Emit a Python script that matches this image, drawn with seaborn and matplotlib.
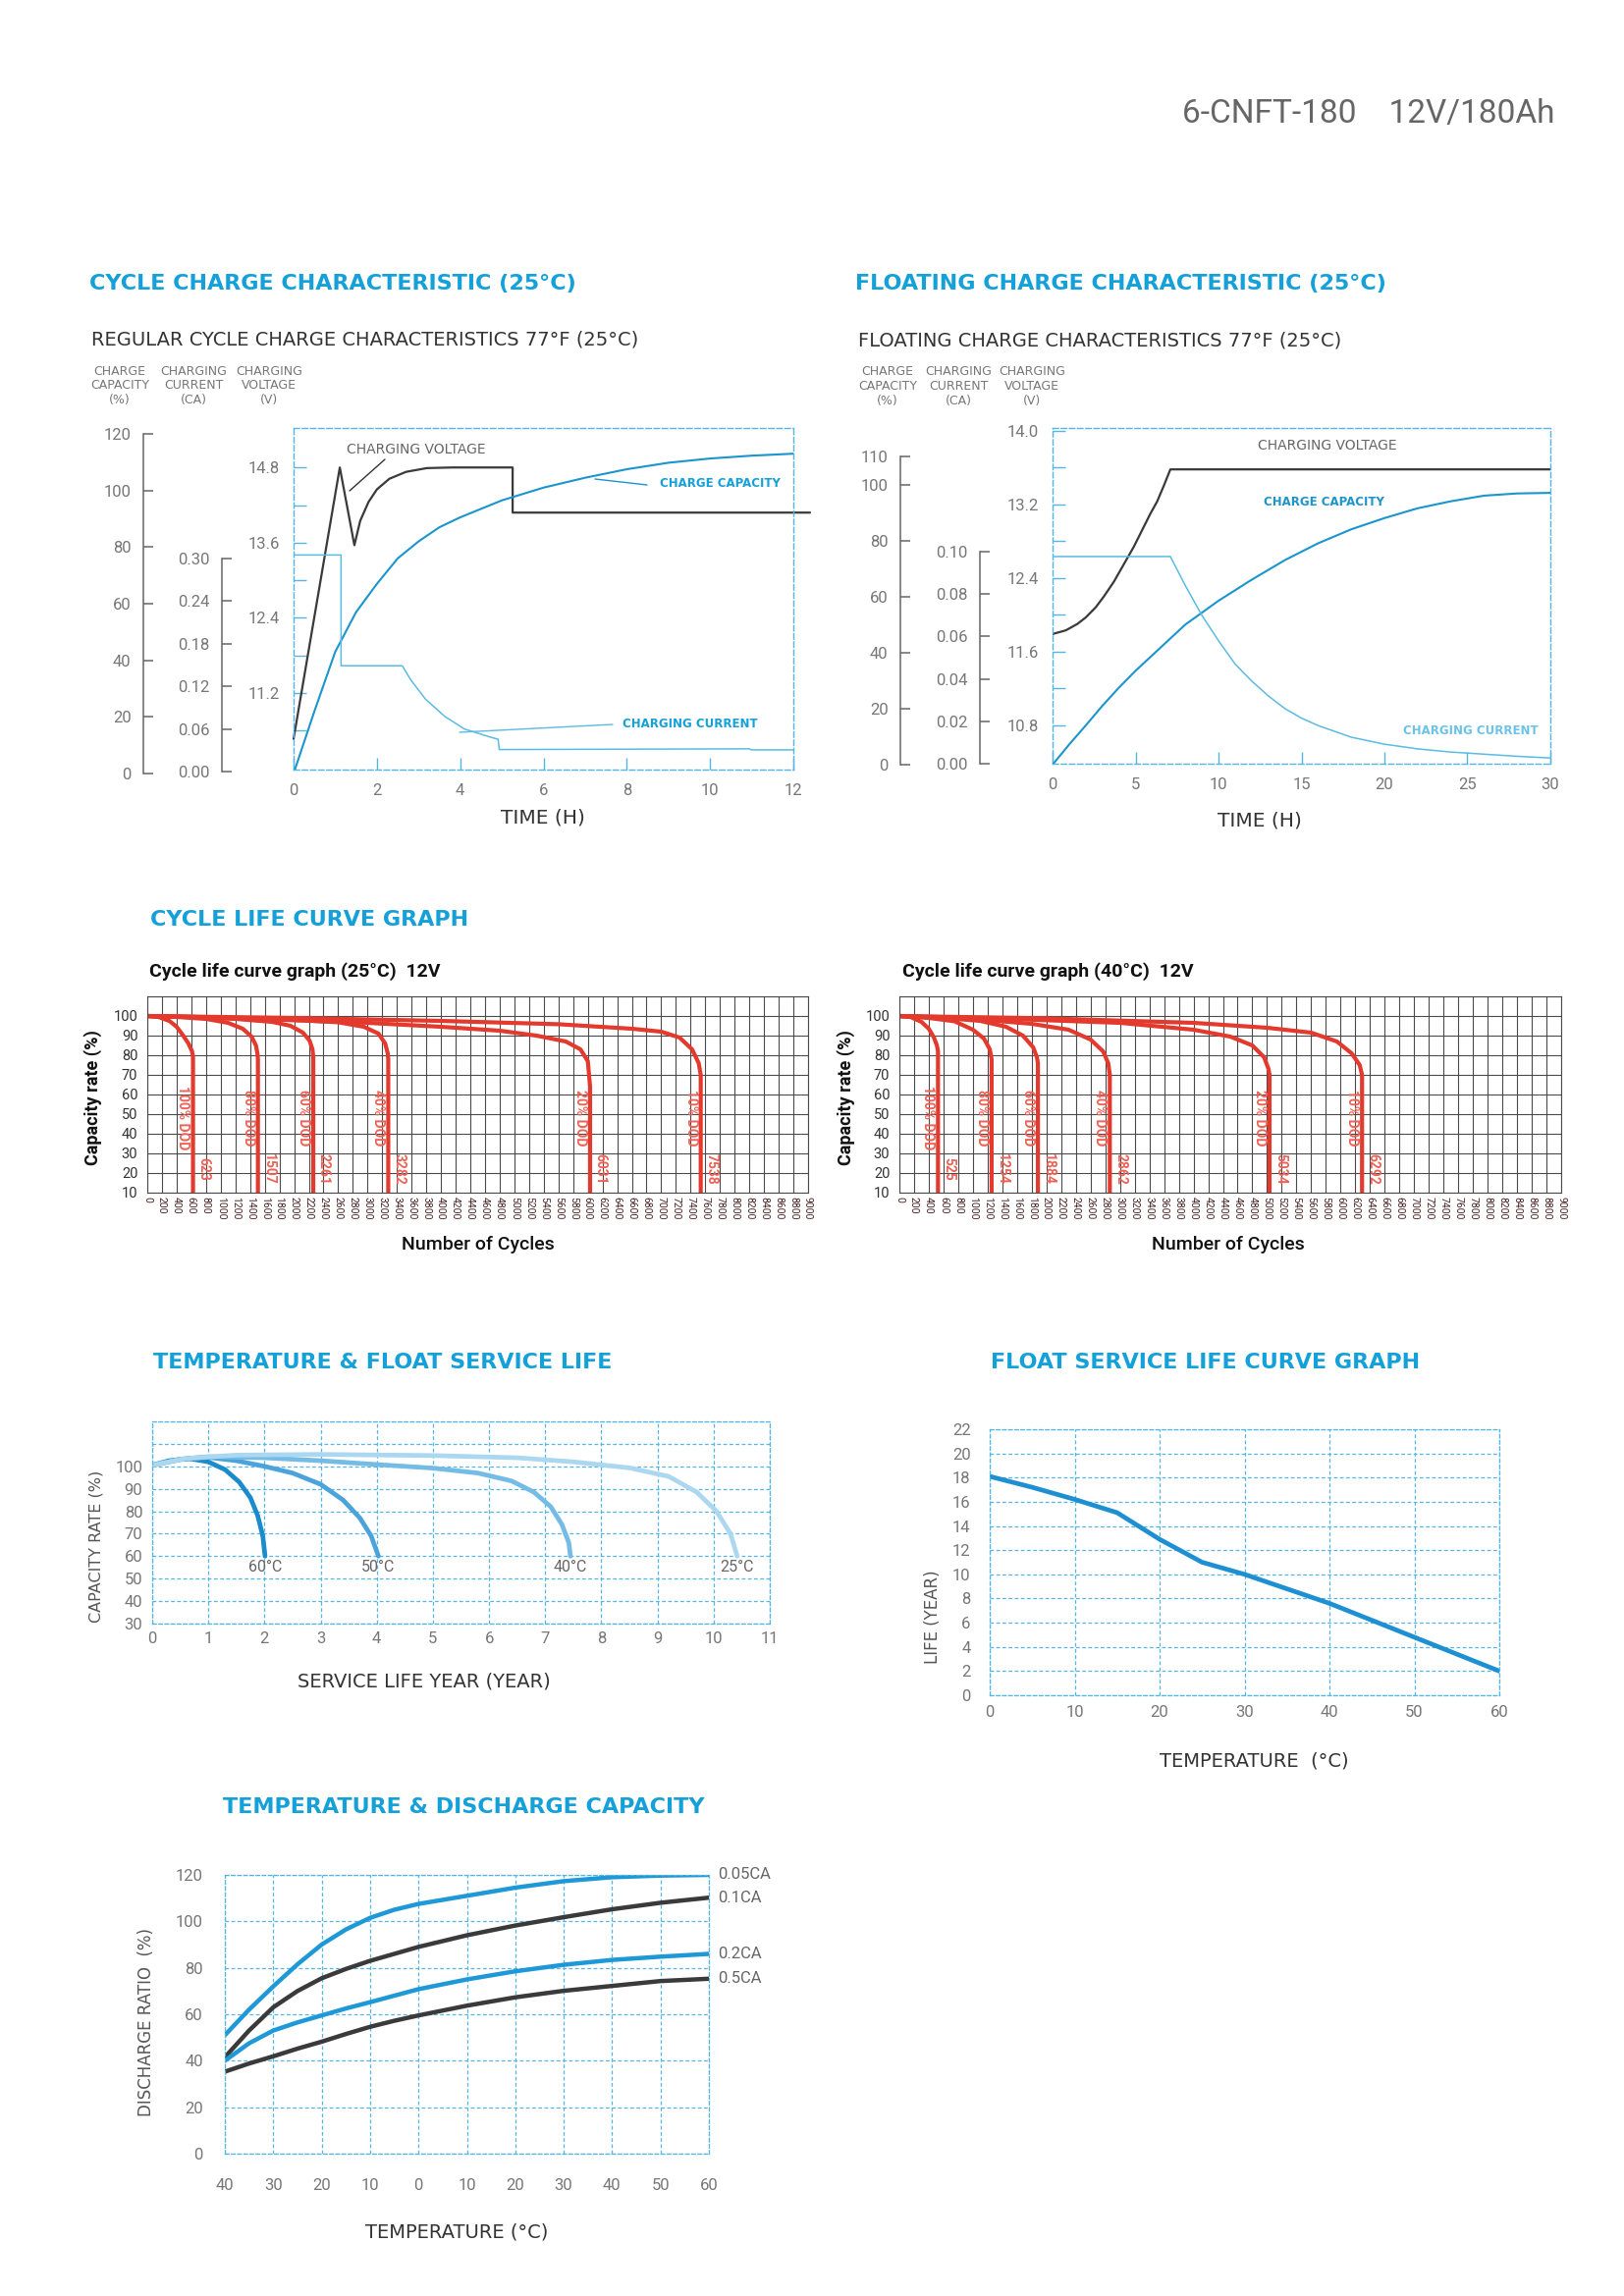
import numpy as np
import matplotlib
matplotlib.use('Agg')
import matplotlib.pyplot as plt
import seaborn as sns
from matplotlib.lines import Line2D

# ---------------- data ----------------
# cycle charge characteristic (25C), time in hours
cc_volt_t = [0, 1.11, 1.46, 1.6, 1.8, 2.0, 2.3, 2.7, 3.2, 3.8, 5.26, 5.26, 12.4]
cc_volt = [10.47, 14.8, 13.56, 13.95, 14.25, 14.45, 14.62, 14.73, 14.79, 14.8, 14.8, 14.08, 14.08]
cc_cap_t = [0, 0.5, 1, 1.5, 2, 2.5, 3, 3.5, 4, 5, 6, 7, 8, 9, 10, 11, 12]
cc_cap = [0, 22, 43, 57, 67, 76, 82, 87, 90.5, 96.5, 101, 104.5, 107.5, 109.8, 111.3, 112.3, 113]
cc_cur_t = [0, 1.14, 1.14, 2.61, 2.82, 3.17, 3.63, 4.10, 4.68, 4.91, 4.94, 10.94, 11.0, 12]
cc_cur = [0.305, 0.305, 0.149, 0.149, 0.1286, 0.1018, 0.0777, 0.060, 0.0493, 0.0455, 0.031, 0.032, 0.0305, 0.0305]

# floating charge characteristic (25C)
fc_volt_t = [0, 0.8, 1.5, 2.0, 2.6, 3.1, 3.7, 4.3, 4.9, 5.4, 5.9, 6.3, 6.7, 7.1, 30]
fc_volt = [11.79, 11.83, 11.9, 11.97, 12.08, 12.2, 12.36, 12.55, 12.74, 12.92, 13.1, 13.23, 13.4, 13.58, 13.58]
fc_cap_t = [0, 1, 2, 3, 4, 5, 6, 8, 10, 12, 14, 16, 18, 20, 22, 24, 26, 28, 30]
fc_cap = [0, 7.2, 14, 21, 27.5, 33.5, 39, 50, 58.5, 66, 73, 79, 84, 88, 91.5, 94, 96, 96.8, 97]
fc_cur_t = [0, 7.1, 8, 9, 10, 11, 12, 13, 14, 15, 16, 18, 20, 22, 24, 26, 28, 30]
fc_cur = [0.0977, 0.0977, 0.084, 0.070, 0.058, 0.047, 0.039, 0.032, 0.026, 0.0215, 0.018,
          0.0125, 0.0092, 0.007, 0.0055, 0.0045, 0.0035, 0.0027]

# cycle life curves
dod_names = ['100% DOD', '80% DOD', '60% DOD', '40% DOD', '20% DOD', '10% DOD']
c25_life = [623, 1507, 2261, 3282, 6031, 7538]
c25_x = [
    [0, 150, 300, 400, 480, 560, 610, 623, 623],
    [0, 400, 800, 1100, 1300, 1420, 1480, 1500, 1507, 1507],
    [0, 600, 1200, 1700, 1950, 2120, 2210, 2250, 2261, 2261],
    [0, 1000, 2000, 2600, 2950, 3150, 3240, 3275, 3282, 3282],
    [0, 1500, 3000, 4000, 4800, 5300, 5700, 5900, 6000, 6031, 6031],
    [0, 2000, 4000, 5600, 6600, 7000, 7250, 7420, 7510, 7538, 7538],
]
c25_y = [
    [100, 99.5, 97.5, 94.5, 90.5, 86, 82, 79, 10],
    [100, 99.5, 98.5, 96.5, 93.5, 89.5, 85, 81, 78, 10],
    [100, 99.5, 98.5, 97, 95, 91.5, 87.5, 83, 79, 10],
    [100, 99.3, 98, 96.8, 94.5, 91, 86, 81, 78, 10],
    [100, 98.5, 96.5, 94.5, 92.5, 90, 87, 83, 77, 64, 10],
    [100, 99, 97.5, 95.8, 93.5, 92, 89, 83, 76, 70, 10],
]
c40_life = [525, 1254, 1884, 2862, 5034, 6292]
c40_x = [
    [0, 150, 300, 400, 470, 510, 525, 525],
    [0, 400, 750, 1000, 1150, 1230, 1254, 1254],
    [0, 600, 1100, 1450, 1680, 1820, 1870, 1884, 1884],
    [0, 1000, 1800, 2300, 2600, 2770, 2840, 2862, 2862],
    [0, 1500, 3000, 4000, 4500, 4800, 4960, 5020, 5034, 5034],
    [0, 2000, 4000, 5000, 5600, 5950, 6150, 6260, 6292, 6292],
]
c40_y = [
    [100, 99.5, 97, 93.5, 89, 85, 82, 10],
    [100, 99, 97.3, 93, 88.5, 83, 78, 10],
    [100, 99, 97.5, 94.5, 90, 84, 79, 76, 10],
    [100, 98.5, 96, 93, 88, 82, 76, 70, 10],
    [100, 98.5, 96.5, 93, 89.5, 85, 79, 73, 70, 10],
    [100, 98.8, 96.5, 94, 91.5, 87, 81, 75, 70, 10],
]

# temperature & float service life (years vs capacity %)
fs_names = ['60°C', '50°C', '40°C', '25°C']
fs60_x = [0, 0.3, 0.65, 1.0, 1.3, 1.55, 1.75, 1.88, 1.97, 2.01]
fs60_y = [100.5, 102.5, 103.5, 102, 98.5, 93, 86, 78, 69, 60]
fs50_x = [0, 0.5, 1.0, 1.5, 2.0, 2.5, 3.0, 3.4, 3.7, 3.9, 4.03]
fs50_y = [100.5, 103, 104, 102.5, 100, 97, 92, 85, 77, 69, 60]
fs40_x = [0, 0.5, 1.0, 2.0, 3.0, 4.0, 5.0, 5.8, 6.4, 6.8, 7.1, 7.3, 7.42, 7.45]
fs40_y = [100.5, 103.2, 104.3, 103.8, 102.5, 100.8, 99.2, 97, 93.5, 88.5, 82, 74, 66, 60]
fs25_x = [0, 0.6, 1.5, 3, 5, 6.5, 7.5, 8.5, 9.2, 9.7, 10.05, 10.3, 10.42]
fs25_y = [100.5, 103.5, 105, 105.3, 104.8, 103.8, 102, 99.3, 95.5, 88.5, 80, 70, 60]

# float service life vs temperature
fl_temp = [0, 5, 10, 15, 20, 25, 30, 35, 40, 45, 50, 55, 60]
fl_life = [18.1, 17.2, 16.2, 15.1, 12.9, 11.0, 10.0, 8.8, 7.6, 6.2, 4.8, 3.4, 2.0]

# temperature & discharge capacity
dc_temp = [-40, -35, -30, -25, -20, -15, -10, -5, 0, 10, 20, 30, 40, 50, 60]
dc_names = ['0.05CA', '0.1CA', '0.2CA', '0.5CA']
dc_005 = [51, 62, 72, 81.5, 90, 96.5, 101.5, 105, 107.5, 111, 114.5, 117.3, 119, 119.7, 120]
dc_01 = [41.5, 53, 63, 70, 75.5, 79.5, 83, 86, 89, 94, 98.2, 101.8, 105.2, 108, 110.2]
dc_02 = [40, 47.5, 53, 56.5, 59.5, 62.5, 65.2, 68, 70.8, 75, 78.5, 81.3, 83.4, 84.8, 86]
dc_05 = [35.3, 38.8, 41.9, 45.2, 48.2, 51.5, 54.6, 57.2, 59.5, 63.7, 67.3, 70.1, 72.2, 74.3, 75.3]

# ---------------- styling ----------------
W, H = 1654, 2339
CYAN = '#14a0d8'
BOX = '#55b5e3'
GREY = '#777777'
DARK = '#3a3a3a'
RED = '#e43a2e'
RED_T = '#ec6257'

sns.set_theme(style='white')
plt.rcParams['font.family'] = ['Roboto', 'DejaVu Sans']

fig = plt.figure(figsize=(W / 100, H / 100), dpi=100)
fig.patch.set_facecolor('white')


def px_ax(x0, y0, x1, y1):
    return fig.add_axes([x0 / W, 1 - y1 / H, (x1 - x0) / W, (y1 - y0) / H])


def ftxt(x, y, s, **kw):
    kw.setdefault('ha', 'left')
    kw.setdefault('va', 'center')
    return fig.text(x / W, 1 - y / H, s, **kw)


def fline(x0, y0, x1, y1, **kw):
    fig.add_artist(Line2D([x0 / W, x1 / W], [1 - y0 / H, 1 - y1 / H],
                          transform=fig.transFigure, **kw))


def line(ax, x, y, color, lw, clip=True):
    sns.lineplot(x=x, y=y, ax=ax, color=color, linewidth=lw,
                 estimator=None, sort=False, legend=False)
    ax.lines[-1].set_clip_on(clip)


def title(x, y, s):
    ftxt(x, y, s, fontsize=16, fontweight='bold', color=CYAN, family='DejaVu Sans')


def caption(x, y, s, size=14, **kw):
    ftxt(x, y, s, fontsize=size, color='#333333', family='DejaVu Sans', **kw)


def scale_axis(x, ytop, ybot, lo, hi, ticks, fmt):
    a = px_ax(x, ytop, x + 1, ybot)
    a.set_ylim(lo, hi)
    a.set_xticks([])
    a.patch.set_alpha(0)
    for s in ['top', 'right', 'bottom']:
        a.spines[s].set_visible(False)
    a.spines['left'].set_color('#666666')
    a.spines['left'].set_linewidth(1.1)
    a.set_yticks(ticks)
    a.set_yticklabels([fmt.format(t) for t in ticks])
    a.tick_params(axis='y', left=True, direction='in', length=7, width=1.1,
                  color='#666666', labelsize=12, labelcolor=GREY, pad=9)


def twin_lim(lo, hi, s_top, s_bot, b_top, b_bot):
    per = (hi - lo) / (s_bot - s_top)
    return lo - (b_bot - s_bot) * per, hi + (s_top - b_top) * per


def charge_box(x0, y0, x1, y1):
    ax = px_ax(x0, y0, x1, y1)
    for s in ax.spines.values():
        s.set_color(BOX)
        s.set_linestyle((0, (4, 2)))
        s.set_linewidth(1.0)
    return ax


def finish_box(ax, xmax, xstep, vlim, vticks, vlabels):
    ax.set_xlim(0, xmax)
    ax.set_ylim(*vlim)
    ax.set_xticks(np.arange(0, xmax + 1, xstep))
    ax.set_yticks(vticks)
    ax.set_yticklabels(vlabels)
    ax.tick_params(axis='x', bottom=True, direction='in', length=9, width=1,
                   color=BOX, labelsize=12, labelcolor=GREY, pad=10)
    ax.tick_params(axis='y', left=False, right=True, direction='in', length=9,
                   width=1, color=BOX, labelleft=True, labelsize=12,
                   labelcolor=GREY, pad=10)


def headers(xs, y):
    for cx, s in zip(xs, ['CHARGE\nCAPACITY\n(%)', 'CHARGING\nCURRENT\n(CA)',
                          'CHARGING\nVOLTAGE\n(V)']):
        ftxt(cx, y, s, ha='center', fontsize=9, color=GREY, family='DejaVu Sans',
             linespacing=1.2)


# ---------------- page header ----------------
ftxt(1584, 116, '6-CNFT-180    12V/180Ah', ha='right', fontsize=24, color='#666666')

# ---------------- cycle charge characteristic ----------------
title(91, 289, 'CYCLE CHARGE CHARACTERISTIC (25°C)')
caption(93, 346, 'REGULAR CYCLE CHARGE CHARACTERISTICS 77°F (25°C)', size=14)
headers([122, 197, 274], 393)

scale_axis(146, 442, 788, 0, 120, list(range(0, 121, 20)), '{:d}')
scale_axis(226, 569, 786, 0, 0.30, [0, 0.06, 0.12, 0.18, 0.24, 0.30], '{:.2f}')

b1 = charge_box(299, 436, 808, 784)
line(b1, cc_volt_t, cc_volt, DARK, 1.6, clip=False)
v1 = np.round(np.arange(10.6, 14.81, 0.6), 1)
finish_box(b1, 12, 2, (9.98, 15.43), v1,
           ['{:.1f}'.format(v) if i % 2 == 1 else '' for i, v in enumerate(v1)])
c1 = b1.twinx()
line(c1, cc_cap_t, cc_cap, '#1b95cc', 1.5)
c1.set_ylim(*twin_lim(0, 120, 442, 788, 436, 784))
c1.axis('off')
i1 = b1.twinx()
line(i1, cc_cur_t, cc_cur, '#5bbbe2', 1.1)
i1.set_ylim(*twin_lim(0, 0.30, 569, 786, 436, 784))
i1.axis('off')
b1.set_xlim(0, 12)

ftxt(424, 458, 'CHARGING VOLTAGE', ha='center', fontsize=10, color='#666666',
     family='DejaVu Sans')
fline(392, 468, 356, 500, color='#333333', lw=1)
ftxt(733, 493, 'CHARGE CAPACITY', ha='center', fontsize=8.5, fontweight='bold',
     color=CYAN, family='DejaVu Sans')
fline(606, 488, 659, 494, color='#1b95cc', lw=1)
ftxt(703, 738, 'CHARGING CURRENT', ha='center', fontsize=8.5, fontweight='bold',
     color=CYAN, family='DejaVu Sans')
fline(468, 746, 624, 738, color='#5bbbe2', lw=1)
caption(553, 833, 'TIME (H)', ha='center', size=14.5)

# ---------------- floating charge characteristic ----------------
title(871, 289, 'FLOATING CHARGE CHARACTERISTIC (25°C)')
caption(874, 347, 'FLOATING CHARGE CHARACTERISTICS 77°F (25°C)', size=14)
headers([904, 976, 1051], 394)

scale_axis(917, 465, 779, 0, 110, [0, 20, 40, 60, 80, 100, 110], '{:d}')
scale_axis(998, 562, 778, 0, 0.10, [0, 0.02, 0.04, 0.06, 0.08, 0.10], '{:.2f}')

b2 = charge_box(1072, 436, 1579, 778)
line(b2, fc_volt_t, fc_volt, DARK, 1.6)
v2 = np.round(np.arange(10.8, 14.01, 0.4), 1)
finish_box(b2, 30, 5, (10.38, 14.03), v2,
           ['{:.1f}'.format(v) if i % 2 == 0 else '' for i, v in enumerate(v2)])
c2 = b2.twinx()
line(c2, fc_cap_t, fc_cap, '#1b95cc', 1.5)
c2.set_ylim(*twin_lim(0, 110, 465, 779, 436, 778))
c2.axis('off')
i2 = b2.twinx()
line(i2, fc_cur_t, fc_cur, '#5bbbe2', 1.1)
i2.set_ylim(*twin_lim(0, 0.10, 562, 778, 436, 778))
i2.axis('off')
b2.set_xlim(0, 30)

ftxt(1352, 454, 'CHARGING VOLTAGE', ha='center', fontsize=10, color='#666666',
     family='DejaVu Sans')
ftxt(1348, 512, 'CHARGE CAPACITY', ha='center', fontsize=8.5, fontweight='bold',
     color='#1b95cc', family='DejaVu Sans')
ftxt(1498, 745, 'CHARGING CURRENT', ha='center', fontsize=8.5, fontweight='bold',
     color='#6cc3e8', family='DejaVu Sans')
caption(1283, 836, 'TIME (H)', ha='center', size=14.5)

# ---------------- cycle life curve graphs ----------------
title(153, 937, 'CYCLE LIFE CURVE GRAPH')


def cycle_chart(x0, x1, xs, ys, lives, sub, sub_x, ylab_x, xlab_x):
    ftxt(sub_x, 990, sub, fontsize=14, fontweight='bold', color='#111111')
    ax = px_ax(x0, 1015, x1, 1215)
    for cx, cy in zip(xs, ys):
        line(ax, cx, cy, RED, 3.0)
    ax.set_xlim(0, 9000)
    ax.set_ylim(10, 110)
    ax.set_xticks(range(0, 9001, 200))
    ax.set_xticklabels([str(v) for v in range(0, 9001, 200)], rotation=-90)
    ax.set_yticks(range(10, 111, 10))
    ax.set_yticklabels([str(v) if v <= 100 else '' for v in range(10, 111, 10)])
    ax.grid(True, color='#4a4a4a', linewidth=0.8)
    for s in ax.spines.values():
        s.set_color('#4a4a4a')
        s.set_linewidth(0.8)
    ax.tick_params(axis='x', length=0, labelsize=7.5, labelcolor='#4a2525', pad=3)
    ax.tick_params(axis='y', length=0, labelsize=10.5, labelcolor='#333333', pad=7)
    for life, name in zip(lives, dod_names):
        ax.text(life - 135, 48, name, rotation=-90, ha='center', va='center',
                fontsize=10, fontweight='bold', color=RED_T)
        ax.text(life + 145, 22, str(life), rotation=-90, ha='center', va='center',
                fontsize=10, fontweight='bold', color=RED_T)
    ftxt(ylab_x, 1118, 'Capacity rate (%)', rotation=90, ha='center', fontsize=13,
         fontweight='bold', color='#111111')
    ftxt(xlab_x, 1268, 'Number of Cycles', ha='center', fontsize=14,
         fontweight='medium', color='#111111')


cycle_chart(150, 823, c25_x, c25_y, c25_life, 'Cycle life curve graph (25°C)  12V',
            152, 95, 487)
cycle_chart(916, 1590, c40_x, c40_y, c40_life, 'Cycle life curve graph (40°C)  12V',
            919, 862, 1251)


def dashed_grid(ax):
    ax.grid(True, color=BOX, linestyle=(0, (3, 2)), linewidth=0.9)
    for s in ax.spines.values():
        s.set_color(BOX)
        s.set_linestyle((0, (3, 2)))
        s.set_linewidth(0.9)


# ---------------- temperature & float service life ----------------
title(156, 1388, 'TEMPERATURE & FLOAT SERVICE LIFE')
a5 = px_ax(155, 1448, 784, 1654)
fs_colors = ['#1a8bcb', '#4aa3da', '#74bbe5', '#acd7f1']
for fx, fy, col in zip([fs60_x, fs50_x, fs40_x, fs25_x], [fs60_y, fs50_y, fs40_y, fs25_y],
                       fs_colors):
    line(a5, fx, fy, col, 3.4)
for fx, name in zip([fs60_x, fs50_x, fs40_x, fs25_x], fs_names):
    a5.text(fx[-1], 55, name, ha='center', va='center', fontsize=11.5, color='#666666')
a5.set_xlim(0, 11)
a5.set_ylim(30, 120)
a5.set_xticks(range(0, 12))
a5.set_yticks(range(30, 121, 10))
a5.set_yticklabels([str(v) if v <= 100 else '' for v in range(30, 121, 10)])
dashed_grid(a5)
a5.tick_params(axis='x', length=0, labelsize=12, labelcolor=GREY, pad=6)
a5.tick_params(axis='y', length=0, labelsize=12, labelcolor=GREY, pad=7)
ftxt(98, 1575, 'CAPACITY RATE (%)', rotation=90, ha='center', fontsize=11.5,
     color='#555555', family='DejaVu Sans')
caption(432, 1713, 'SERVICE LIFE YEAR (YEAR)', ha='center', size=14)

# ---------------- float service life curve ----------------
title(1009, 1388, 'FLOAT SERVICE LIFE CURVE GRAPH')
a6 = px_ax(1008, 1456, 1527, 1727)
line(a6, fl_temp, fl_life, '#1e90d2', 3.4)
a6.set_xlim(0, 60)
a6.set_ylim(0, 22)
a6.set_xticks(range(0, 61, 10))
a6.set_yticks(range(0, 23, 2))
dashed_grid(a6)
a6.tick_params(axis='x', length=0, labelsize=12, labelcolor=GREY, pad=7)
a6.tick_params(axis='y', length=0, labelsize=12, labelcolor=GREY, pad=14)
ftxt(950, 1647, 'LIFE (YEAR)', rotation=90, ha='center', fontsize=12,
     color='#555555', family='DejaVu Sans')
caption(1277, 1794, 'TEMPERATURE  (°C)', ha='center', size=14)

# ---------------- temperature & discharge capacity ----------------
title(227, 1841, 'TEMPERATURE & DISCHARGE CAPACITY')
a7 = px_ax(229, 1910, 722, 2194)
dc_colors = ['#1e98d6', DARK, '#1e98d6', DARK]
dc_series = [dc_005, dc_01, dc_02, dc_05]
for ser, col in zip(dc_series, dc_colors):
    line(a7, dc_temp, ser, col, 3.2)
for ser, name in zip(dc_series, dc_names):
    a7.text(dc_temp[-1] + 1.8, ser[-1], name, ha='left', va='center', fontsize=12,
            color='#666666')
a7.set_xlim(-40, 60)
a7.set_ylim(0, 120)
a7.set_xticks(range(-40, 61, 10))
a7.set_xticklabels([str(abs(v)) for v in range(-40, 61, 10)])
a7.set_yticks(range(0, 121, 20))
dashed_grid(a7)
a7.tick_params(axis='x', length=0, labelsize=12, labelcolor=GREY, pad=18)
a7.tick_params(axis='y', length=0, labelsize=12, labelcolor=GREY, pad=16)
ftxt(149, 2060, 'DISCHARGE RATIO  (%)', rotation=90, ha='center', fontsize=12,
     color='#555555', family='DejaVu Sans')
caption(465, 2274, 'TEMPERATURE (°C)', ha='center', size=14)

fig.savefig('out.png', dpi=100, facecolor='white')
